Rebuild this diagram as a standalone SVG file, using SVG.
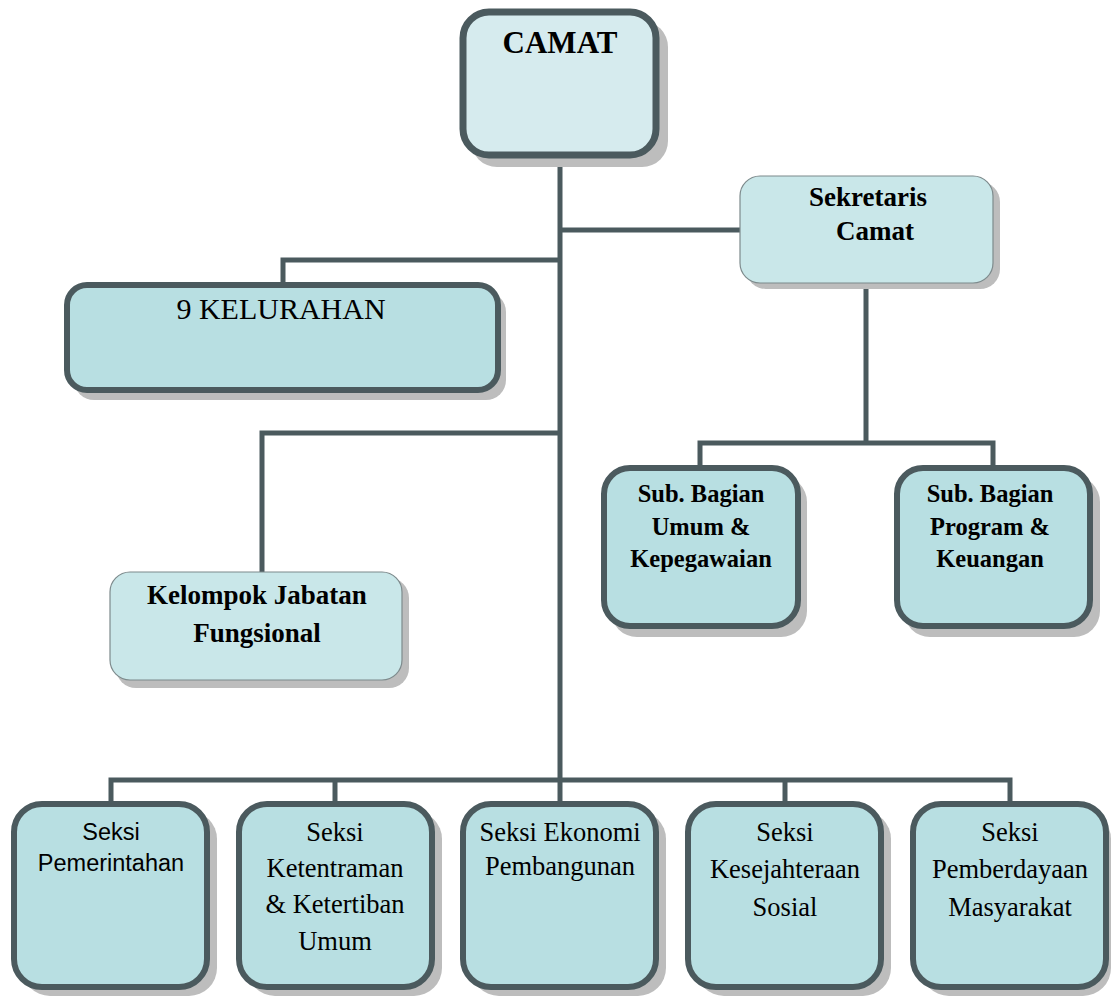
<svg xmlns="http://www.w3.org/2000/svg" width="1111" height="996" viewBox="0 0 1111 996">
<style>
.sh{fill:#bdbdbd}
.thick{fill:#b8dfe2;stroke:#4b5a5e;stroke-width:6}
.thin{fill:#c9e7e9;stroke:#7d8a8c;stroke-width:1.2}
.cam{fill:#d6ebee;stroke:#4b5a5e;stroke-width:7}
.conn{fill:none;stroke:#4b5a5e;stroke-width:5}
.b{font-family:"Liberation Serif","Times New Roman",serif;font-weight:bold;fill:#000;text-anchor:middle}
.r{font-family:"Liberation Serif","Times New Roman",serif;fill:#000;text-anchor:middle}
.s{font-family:"Liberation Sans",Arial,sans-serif;fill:#000;text-anchor:middle}
</style>
<rect width="1111" height="996" fill="#fff"/>
<g id="connectors">
<path class="conn" d="M560 157V780"/>
<path class="conn" d="M560 230H740"/>
<path class="conn" d="M560 260H283V283"/>
<path class="conn" d="M560 433H262V572"/>
<path class="conn" d="M866 283V443"/>
<path class="conn" d="M700 467V443H993V467"/>
<path class="conn" d="M111 803V780H1010V803"/>
<path class="conn" d="M335 780V803"/>
<path class="conn" d="M560 780V803"/>
<path class="conn" d="M785 780V803"/>
</g>
<g id="camat">
<rect class="sh" x="471" y="21" width="197" height="146" rx="26"/>
<rect class="cam" x="463" y="12" width="193" height="143" rx="26"/>
<text class="b" x="560" y="53" font-size="31">CAMAT</text>
</g>
<g id="sekretaris">
<rect class="sh" x="746" y="182" width="254" height="107" rx="20"/>
<rect class="thin" x="740" y="176" width="253" height="107" rx="20"/>
<text class="b" x="868" y="206" font-size="27">Sekretaris</text>
<text class="b" x="875" y="240" font-size="27">Camat</text>
</g>
<g id="kelurahan">
<rect class="sh" x="74" y="292" width="432" height="108" rx="20"/>
<rect class="thick" x="67" y="285" width="431" height="105" rx="20"/>
<text class="r" x="281" y="319" font-size="30">9 KELURAHAN</text>
</g>
<g id="kelompok">
<rect class="sh" x="116" y="578" width="293" height="110" rx="20"/>
<rect class="thin" x="110" y="572" width="292" height="108" rx="20"/>
<text class="b" x="257" y="604" font-size="27">Kelompok Jabatan</text>
<text class="b" x="257" y="642" font-size="27">Fungsional</text>
</g>
<g id="subumum">
<rect class="sh" x="611" y="476" width="196" height="161" rx="26"/>
<rect class="thick" x="604" y="468" width="194" height="158" rx="26"/>
<text class="b" x="701" y="502" font-size="24.5">Sub. Bagian</text>
<text class="b" x="701" y="535" font-size="24.5">Umum &amp;</text>
<text class="b" x="701" y="567" font-size="24.5">Kepegawaian</text>
</g>
<g id="subprogram">
<rect class="sh" x="904" y="476" width="196" height="161" rx="26"/>
<rect class="thick" x="897" y="468" width="193" height="158" rx="26"/>
<text class="b" x="990" y="502" font-size="24.5">Sub. Bagian</text>
<text class="b" x="990" y="535" font-size="24.5">Program &amp;</text>
<text class="b" x="990" y="567" font-size="24.5">Keuangan</text>
</g>
<g id="seksi1">
<rect class="sh" x="22" y="811" width="195" height="185" rx="28"/>
<rect class="thick" x="14" y="804" width="193" height="183" rx="28"/>
<text class="s" x="111" y="840" font-size="23.5">Seksi</text>
<text class="s" x="111" y="871" font-size="23.5">Pemerintahan</text>
</g>
<g id="seksi2">
<rect class="sh" x="247" y="811" width="195" height="185" rx="28"/>
<rect class="thick" x="239" y="804" width="193" height="183" rx="28"/>
<text class="r" x="335" y="841" font-size="26.5">Seksi</text>
<text class="r" x="335" y="877" font-size="26.5">Ketentraman</text>
<text class="r" x="335" y="913" font-size="26.5">&amp; Ketertiban</text>
<text class="r" x="335" y="950" font-size="26.5">Umum</text>
</g>
<g id="seksi3">
<rect class="sh" x="471" y="811" width="195" height="185" rx="28"/>
<rect class="thick" x="463" y="804" width="193" height="183" rx="28"/>
<text class="r" x="560" y="841" font-size="26.5">Seksi Ekonomi</text>
<text class="r" x="560" y="875" font-size="26.5">Pembangunan</text>
</g>
<g id="seksi4">
<rect class="sh" x="696" y="811" width="195" height="185" rx="28"/>
<rect class="thick" x="688" y="804" width="193" height="183" rx="28"/>
<text class="r" x="785" y="841" font-size="26.5">Seksi</text>
<text class="r" x="785" y="878" font-size="26.5">Kesejahteraan</text>
<text class="r" x="785" y="916" font-size="26.5">Sosial</text>
</g>
<g id="seksi5">
<rect class="sh" x="921" y="811" width="190" height="185" rx="28"/>
<rect class="thick" x="913" y="804" width="193" height="183" rx="28"/>
<text class="r" x="1010" y="841" font-size="26.5">Seksi</text>
<text class="r" x="1010" y="878" font-size="26.5">Pemberdayaan</text>
<text class="r" x="1010" y="916" font-size="26.5">Masyarakat</text>
</g>
</svg>
